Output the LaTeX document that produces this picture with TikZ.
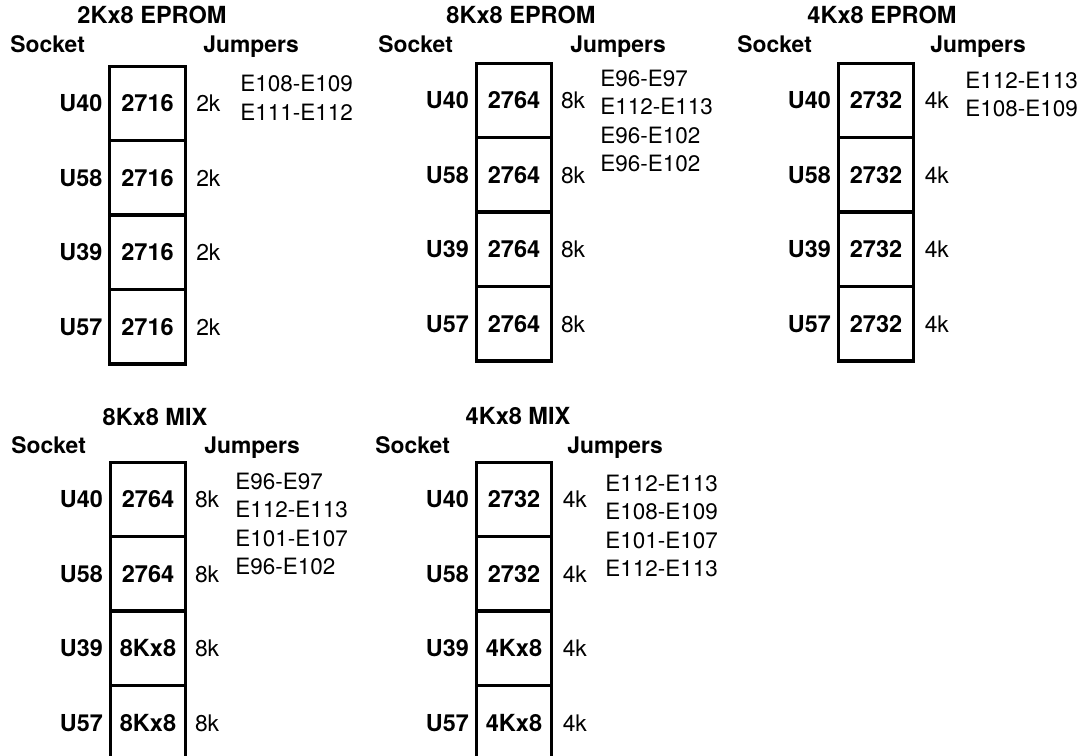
\documentclass[tikz,border=0pt]{standalone}
\usepackage{fontspec}
\setmainfont{TeX Gyre Heros}
\usepackage{tikz}
\usetikzlibrary{positioning}

\begin{document}
\begin{tikzpicture}[x=0.02cm, y=-0.02cm,
    title/.style={anchor=base, inner sep=0pt, font=\fontsize{13.4}{15}\selectfont\bfseries},
    head/.style={anchor=base west, inner sep=0pt, font=\fontsize{13}{15}\selectfont\bfseries},
    chip/.style={draw, line width=1pt, minimum width=1.48cm, minimum height=1.455cm, inner sep=0pt, font=\fontsize{13.4}{15}\selectfont\bfseries},
    sock/.style={inner sep=0pt, font=\fontsize{13.3}{15}\selectfont\bfseries},
    size/.style={inner sep=0pt, font=\fontsize{13}{15}\selectfont},
    jmp/.style={anchor=north west, inner sep=0pt, align=left, font=\fontsize{12.8}{16.2}\selectfont}]

    \useasboundingbox (0,0) rectangle (1082,755);

    % 2Kx8 EPROM
    \node[title] at (152,23) (t1) {2Kx8 EPROM};
    \node[head] at (10,52) (s1) {Socket};
    \node[head] at (203,52) (j1) {Jumpers};
    \node[chip] at (147.5,103.4) (p1c1) {2716};
    \node[chip,below=0pt of p1c1] (p1c2) {2716};
    \node[chip,below=0pt of p1c2] (p1c3) {2716};
    \node[chip,below=0pt of p1c3] (p1c4) {2716};
    \node[sock,left=4pt of p1c1] (p1u1) {U40};
    \node[sock,left=4pt of p1c2] (p1u2) {U58};
    \node[sock,left=4pt of p1c3] (p1u3) {U39};
    \node[sock,left=4pt of p1c4] (p1u4) {U57};
    \node[size,right=6pt of p1c1] (p1k1) {2k};
    \node[size,right=6pt of p1c2] (p1k2) {2k};
    \node[size,right=6pt of p1c3] (p1k3) {2k};
    \node[size,right=6pt of p1c4] (p1k4) {2k};
    \draw[line width=1.6pt] (p1c1.north west) rectangle (p1c4.south east);
    \node[jmp] at (240,75) (e1) {E108-E109\\E111-E112};

    % 8Kx8 EPROM
    \node[title] at (521,23) (t2) {8Kx8 EPROM};
    \node[head] at (378,52) (s2) {Socket};
    \node[head] at (570,52) (j2) {Jumpers};
    \node[chip] at (514,100.4) (p2c1) {2764};
    \node[chip,below=0pt of p2c1] (p2c2) {2764};
    \node[chip,below=0pt of p2c2] (p2c3) {2764};
    \node[chip,below=0pt of p2c3] (p2c4) {2764};
    \node[sock,left=4pt of p2c1] (p2u1) {U40};
    \node[sock,left=4pt of p2c2] (p2u2) {U58};
    \node[sock,left=4pt of p2c3] (p2u3) {U39};
    \node[sock,left=4pt of p2c4] (p2u4) {U57};
    \node[size,right=5pt of p2c1] (p2k1) {8k};
    \node[size,right=5pt of p2c2] (p2k2) {8k};
    \node[size,right=5pt of p2c3] (p2k3) {8k};
    \node[size,right=5pt of p2c4] (p2k4) {8k};
    \draw[line width=1.6pt] (p2c1.north west) rectangle (p2c4.south east);
    \node[jmp] at (600,69.5) (e2) {E96-E97\\E112-E113\\E96-E102\\E96-E102};

    % 4Kx8 EPROM
    \node[title] at (882,23) (t3) {4Kx8 EPROM};
    \node[head] at (737,52) (s3) {Socket};
    \node[head] at (930,52) (j3) {Jumpers};
    \node[chip] at (876,100.4) (p3c1) {2732};
    \node[chip,below=0pt of p3c1] (p3c2) {2732};
    \node[chip,below=0pt of p3c2] (p3c3) {2732};
    \node[chip,below=0pt of p3c3] (p3c4) {2732};
    \node[sock,left=4pt of p3c1] (p3u1) {U40};
    \node[sock,left=4pt of p3c2] (p3u2) {U58};
    \node[sock,left=4pt of p3c3] (p3u3) {U39};
    \node[sock,left=4pt of p3c4] (p3u4) {U57};
    \node[size,right=6pt of p3c1] (p3k1) {4k};
    \node[size,right=6pt of p3c2] (p3k2) {4k};
    \node[size,right=6pt of p3c3] (p3k3) {4k};
    \node[size,right=6pt of p3c4] (p3k4) {4k};
    \draw[line width=1.6pt] (p3c1.north west) rectangle (p3c4.south east);
    \node[jmp] at (965,71.5) (e3) {E112-E113\\E108-E109};

    % 8Kx8 MIX
    \node[title] at (155,425) (t4) {8Kx8 MIX};
    \node[head] at (11,453) (s4) {Socket};
    \node[head] at (204,453) (j4) {Jumpers};
    \node[chip] at (148,499.4) (p4c1) {2764};
    \node[chip,below=0pt of p4c1] (p4c2) {2764};
    \node[chip,below=0pt of p4c2] (p4c3) {8Kx8};
    \node[chip,below=0pt of p4c3] (p4c4) {8Kx8};
    \node[sock,left=4pt of p4c1] (p4u1) {U40};
    \node[sock,left=4pt of p4c2] (p4u2) {U58};
    \node[sock,left=4pt of p4c3] (p4u3) {U39};
    \node[sock,left=4pt of p4c4] (p4u4) {U57};
    \node[size,right=5pt of p4c1] (p4k1) {8k};
    \node[size,right=5pt of p4c2] (p4k2) {8k};
    \node[size,right=5pt of p4c3] (p4k3) {8k};
    \node[size,right=5pt of p4c4] (p4k4) {8k};
    \draw[line width=1.6pt] (p4c1.north west) rectangle (p4c4.south east);
    \node[jmp] at (235,472.5) (e4) {E96-E97\\E112-E113\\E101-E107\\E96-E102};

    % 4Kx8 MIX
    \node[title] at (518,424) (t5) {4Kx8 MIX};
    \node[head] at (375,453) (s5) {Socket};
    \node[head] at (567,453) (j5) {Jumpers};
    \node[chip] at (514,499.4) (p5c1) {2732};
    \node[chip,below=0pt of p5c1] (p5c2) {2732};
    \node[chip,below=0pt of p5c2] (p5c3) {4Kx8};
    \node[chip,below=0pt of p5c3] (p5c4) {4Kx8};
    \node[sock,left=4pt of p5c1] (p5u1) {U40};
    \node[sock,left=4pt of p5c2] (p5u2) {U58};
    \node[sock,left=4pt of p5c3] (p5u3) {U39};
    \node[sock,left=4pt of p5c4] (p5u4) {U57};
    \node[size,right=6pt of p5c1] (p5k1) {4k};
    \node[size,right=6pt of p5c2] (p5k2) {4k};
    \node[size,right=6pt of p5c3] (p5k3) {4k};
    \node[size,right=6pt of p5c4] (p5k4) {4k};
    \draw[line width=1.6pt] (p5c1.north west) rectangle (p5c4.south east);
    \node[jmp] at (605,474.5) (e5) {E112-E113\\E108-E109\\E101-E107\\E112-E113};

\end{tikzpicture}
\end{document}
